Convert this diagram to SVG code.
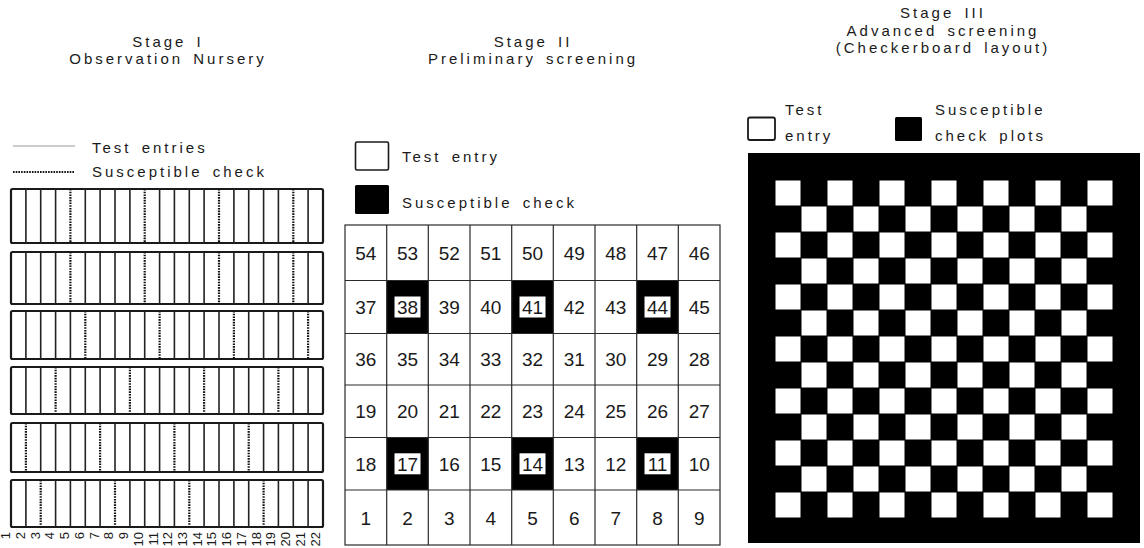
<svg xmlns="http://www.w3.org/2000/svg" width="1144" height="548" viewBox="0 0 1144 548">
<style>
.t{font-family:"Liberation Sans",Arial,sans-serif;font-size:15px;letter-spacing:3px;word-spacing:3px;fill:#1a1a1a}
.h{text-anchor:middle}
.n{font-family:"Liberation Sans",Arial,sans-serif;font-size:19px;fill:#1a1a1a;text-anchor:middle}
.lab{font-family:"Liberation Sans",Arial,sans-serif;font-size:13px;fill:#1a1a1a;text-anchor:end;dominant-baseline:central}
.row{fill:#fff;stroke:#1a1a1a;stroke-width:2.2}
.sol{fill:none;stroke:#222;stroke-width:1.6}
.dot{fill:none;stroke:#111;stroke-width:2.2;stroke-dasharray:1.6 1.1}
.grid{fill:none;stroke:#2a2a2a;stroke-width:1.2}
.blk{fill:#000}
.wht{fill:#fff}
</style>
<rect width="1144" height="548" fill="#fff"/>

<g id="headers">
<text class="t h" x="168" y="47">Stage I</text>
<text class="t h" x="168" y="64">Observation Nursery</text>
<text class="t h" x="533" y="47">Stage II</text>
<text class="t h" x="533" y="64">Preliminary screening</text>
<text class="t h" x="943" y="18">Stage III</text>
<text class="t h" x="943" y="35.5">Advanced screening</text>
<text class="t h" x="943" y="53">(Checkerboard layout)</text>
</g>

<g id="stage1-legend">
<line x1="13" y1="146" x2="75" y2="146" stroke="#9a9a9a" stroke-width="1.2"/>
<text class="t" x="92" y="153">Test entries</text>
<line x1="13" y1="172" x2="75" y2="172" class="dot"/>
<text class="t" x="92" y="177">Susceptible check</text>
</g>

<g id="stage1-field">
<rect class="row" x="11" y="189" width="312" height="54" rx="1.5"/>
<rect class="row" x="11" y="252" width="312" height="52" rx="1.5"/>
<rect class="row" x="11" y="311" width="312" height="48" rx="1.5"/>
<rect class="row" x="11" y="367" width="312" height="47" rx="1.5"/>
<rect class="row" x="11" y="423" width="312" height="49" rx="1.5"/>
<rect class="row" x="11" y="480" width="312" height="47" rx="1.5"/>
<path class="sol" d="M25.9 189V243M40.7 189V243M55.6 189V243M85.3 189V243M100.1 189V243M115 189V243M129.9 189V243M159.6 189V243M174.4 189V243M189.3 189V243M204.1 189V243M233.9 189V243M248.7 189V243M263.6 189V243M278.4 189V243M308.1 189V243"/>
<path class="dot" d="M70.4 189V243M144.7 189V243M219 189V243M293.3 189V243"/>
<path class="sol" d="M25.9 252V304M40.7 252V304M55.6 252V304M85.3 252V304M100.1 252V304M115 252V304M129.9 252V304M159.6 252V304M174.4 252V304M189.3 252V304M204.1 252V304M233.9 252V304M248.7 252V304M263.6 252V304M278.4 252V304M308.1 252V304"/>
<path class="dot" d="M70.4 252V304M144.7 252V304M219 252V304M293.3 252V304"/>
<path class="sol" d="M25.9 311V359M40.7 311V359M55.6 311V359M70.4 311V359M100.1 311V359M115 311V359M129.9 311V359M144.7 311V359M174.4 311V359M189.3 311V359M204.1 311V359M219 311V359M248.7 311V359M263.6 311V359M278.4 311V359M293.3 311V359"/>
<path class="dot" d="M85.3 311V359M159.6 311V359M233.9 311V359M308.1 311V359"/>
<path class="sol" d="M25.9 367V414M40.7 367V414M70.4 367V414M85.3 367V414M100.1 367V414M115 367V414M144.7 367V414M159.6 367V414M174.4 367V414M189.3 367V414M219 367V414M233.9 367V414M248.7 367V414M263.6 367V414M293.3 367V414M308.1 367V414"/>
<path class="dot" d="M55.6 367V414M129.9 367V414M204.1 367V414M278.4 367V414"/>
<path class="sol" d="M40.7 423V472M55.6 423V472M70.4 423V472M85.3 423V472M115 423V472M129.9 423V472M144.7 423V472M159.6 423V472M189.3 423V472M204.1 423V472M219 423V472M233.9 423V472M263.6 423V472M278.4 423V472M293.3 423V472M308.1 423V472"/>
<path class="dot" d="M25.9 423V472M100.1 423V472M174.4 423V472M248.7 423V472"/>
<path class="sol" d="M25.9 480V527M55.6 480V527M70.4 480V527M85.3 480V527M100.1 480V527M129.9 480V527M144.7 480V527M159.6 480V527M174.4 480V527M204.1 480V527M219 480V527M233.9 480V527M248.7 480V527M278.4 480V527M293.3 480V527M308.1 480V527"/>
<path class="dot" d="M40.7 480V527M115 480V527M189.3 480V527M263.6 480V527"/>
</g>

<g id="stage1-labels">
<text class="lab" transform="translate(5.7,532) rotate(-90)">1</text>
<text class="lab" transform="translate(20.4,532) rotate(-90)">2</text>
<text class="lab" transform="translate(35.2,532) rotate(-90)">3</text>
<text class="lab" transform="translate(49.9,532) rotate(-90)">4</text>
<text class="lab" transform="translate(64.6,532) rotate(-90)">5</text>
<text class="lab" transform="translate(79.4,532) rotate(-90)">6</text>
<text class="lab" transform="translate(94.1,532) rotate(-90)">7</text>
<text class="lab" transform="translate(108.8,532) rotate(-90)">8</text>
<text class="lab" transform="translate(123.5,532) rotate(-90)">9</text>
<text class="lab" transform="translate(138.3,532) rotate(-90)">10</text>
<text class="lab" transform="translate(153,532) rotate(-90)">11</text>
<text class="lab" transform="translate(167.7,532) rotate(-90)">12</text>
<text class="lab" transform="translate(182.5,532) rotate(-90)">13</text>
<text class="lab" transform="translate(197.2,532) rotate(-90)">14</text>
<text class="lab" transform="translate(211.9,532) rotate(-90)">15</text>
<text class="lab" transform="translate(226.7,532) rotate(-90)">16</text>
<text class="lab" transform="translate(241.4,532) rotate(-90)">17</text>
<text class="lab" transform="translate(256.1,532) rotate(-90)">18</text>
<text class="lab" transform="translate(270.9,532) rotate(-90)">19</text>
<text class="lab" transform="translate(285.6,532) rotate(-90)">20</text>
<text class="lab" transform="translate(300.3,532) rotate(-90)">21</text>
<text class="lab" transform="translate(315,532) rotate(-90)">22</text>
</g>

<g id="stage2-legend">
<rect x="355.5" y="142" width="33" height="28" fill="#fff" stroke="#1a1a1a" stroke-width="1.6" rx="1.5"/>
<text class="t" x="402" y="162">Test entry</text>
<rect x="355" y="185" width="34" height="29" class="blk" rx="1.5"/>
<text class="t" x="402" y="208">Susceptible check</text>
</g>

<g id="stage2-grid">
<rect class="blk" x="386.7" y="280.5" width="41.6" height="53"/>
<rect class="blk" x="511.7" y="280.5" width="41.6" height="53"/>
<rect class="blk" x="636.7" y="280.5" width="41.6" height="53"/>
<rect class="blk" x="386.7" y="437.5" width="41.6" height="52.5"/>
<rect class="blk" x="511.7" y="437.5" width="41.6" height="52.5"/>
<rect class="blk" x="636.7" y="437.5" width="41.6" height="52.5"/>
<rect class="wht" x="394.5" y="296.5" width="26" height="21"/>
<rect class="wht" x="519.5" y="296.5" width="26" height="21"/>
<rect class="wht" x="644.5" y="296.5" width="26" height="21"/>
<rect class="wht" x="394.5" y="453.3" width="26" height="21"/>
<rect class="wht" x="519.5" y="453.3" width="26" height="21"/>
<rect class="wht" x="644.5" y="453.3" width="26" height="21"/>
<rect class="grid" x="345" y="225" width="375" height="320"/>
<path class="grid" d="M386.7 225V545M428.3 225V545M470 225V545M511.7 225V545M553.3 225V545M595 225V545M636.7 225V545M678.3 225V545M345 280.5H720M345 333.5H720M345 385H720M345 437.5H720M345 490H720"/>
<text class="n" x="365.8" y="259.8">54</text>
<text class="n" x="407.5" y="259.8">53</text>
<text class="n" x="449.2" y="259.8">52</text>
<text class="n" x="490.8" y="259.8">51</text>
<text class="n" x="532.5" y="259.8">50</text>
<text class="n" x="574.2" y="259.8">49</text>
<text class="n" x="615.8" y="259.8">48</text>
<text class="n" x="657.5" y="259.8">47</text>
<text class="n" x="699.2" y="259.8">46</text>
<text class="n" x="365.8" y="314">37</text>
<text class="n" x="407.5" y="314">38</text>
<text class="n" x="449.2" y="314">39</text>
<text class="n" x="490.8" y="314">40</text>
<text class="n" x="532.5" y="314">41</text>
<text class="n" x="574.2" y="314">42</text>
<text class="n" x="615.8" y="314">43</text>
<text class="n" x="657.5" y="314">44</text>
<text class="n" x="699.2" y="314">45</text>
<text class="n" x="365.8" y="366.3">36</text>
<text class="n" x="407.5" y="366.3">35</text>
<text class="n" x="449.2" y="366.3">34</text>
<text class="n" x="490.8" y="366.3">33</text>
<text class="n" x="532.5" y="366.3">32</text>
<text class="n" x="574.2" y="366.3">31</text>
<text class="n" x="615.8" y="366.3">30</text>
<text class="n" x="657.5" y="366.3">29</text>
<text class="n" x="699.2" y="366.3">28</text>
<text class="n" x="365.8" y="418.3">19</text>
<text class="n" x="407.5" y="418.3">20</text>
<text class="n" x="449.2" y="418.3">21</text>
<text class="n" x="490.8" y="418.3">22</text>
<text class="n" x="532.5" y="418.3">23</text>
<text class="n" x="574.2" y="418.3">24</text>
<text class="n" x="615.8" y="418.3">25</text>
<text class="n" x="657.5" y="418.3">26</text>
<text class="n" x="699.2" y="418.3">27</text>
<text class="n" x="365.8" y="470.8">18</text>
<text class="n" x="407.5" y="470.8">17</text>
<text class="n" x="449.2" y="470.8">16</text>
<text class="n" x="490.8" y="470.8">15</text>
<text class="n" x="532.5" y="470.8">14</text>
<text class="n" x="574.2" y="470.8">13</text>
<text class="n" x="615.8" y="470.8">12</text>
<text class="n" x="657.5" y="470.8">11</text>
<text class="n" x="699.2" y="470.8">10</text>
<text class="n" x="365.8" y="524.5">1</text>
<text class="n" x="407.5" y="524.5">2</text>
<text class="n" x="449.2" y="524.5">3</text>
<text class="n" x="490.8" y="524.5">4</text>
<text class="n" x="532.5" y="524.5">5</text>
<text class="n" x="574.2" y="524.5">6</text>
<text class="n" x="615.8" y="524.5">7</text>
<text class="n" x="657.5" y="524.5">8</text>
<text class="n" x="699.2" y="524.5">9</text>
</g>

<g id="stage3-legend">
<rect x="748" y="117.5" width="27" height="22.5" fill="#fff" stroke="#1a1a1a" stroke-width="1.8" rx="2"/>
<text class="t" x="785" y="115">Test</text>
<text class="t" x="785" y="141">entry</text>
<rect x="895" y="117" width="27" height="24" class="blk" rx="1.5"/>
<text class="t" x="935" y="115">Susceptible</text>
<text class="t" x="935" y="141">check plots</text>
</g>

<defs>
<g id="r7"><rect x="0.5" y="0.5" width="25" height="25"/><rect x="52.5" y="0.5" width="25" height="25"/><rect x="104.5" y="0.5" width="25" height="25"/><rect x="156.5" y="0.5" width="25" height="25"/><rect x="208.5" y="0.5" width="25" height="25"/><rect x="260.5" y="0.5" width="25" height="25"/><rect x="312.5" y="0.5" width="25" height="25"/></g>
<g id="r6"><rect x="26.5" y="0.5" width="25" height="25"/><rect x="78.5" y="0.5" width="25" height="25"/><rect x="130.5" y="0.5" width="25" height="25"/><rect x="182.5" y="0.5" width="25" height="25"/><rect x="234.5" y="0.5" width="25" height="25"/><rect x="286.5" y="0.5" width="25" height="25"/></g>
</defs>

<g id="stage3-field">
<rect x="748" y="153" width="392" height="390" class="blk"/>
<g fill="#fff">
<use href="#r7" x="775" y="180"/>
<use href="#r6" x="775" y="206"/>
<use href="#r7" x="775" y="232"/>
<use href="#r6" x="775" y="258"/>
<use href="#r7" x="775" y="284"/>
<use href="#r6" x="775" y="310"/>
<use href="#r7" x="775" y="336"/>
<use href="#r6" x="775" y="362"/>
<use href="#r7" x="775" y="388"/>
<use href="#r6" x="775" y="414"/>
<use href="#r7" x="775" y="440"/>
<use href="#r6" x="775" y="466"/>
<use href="#r7" x="775" y="492"/>
</g>
</g>
</svg>
